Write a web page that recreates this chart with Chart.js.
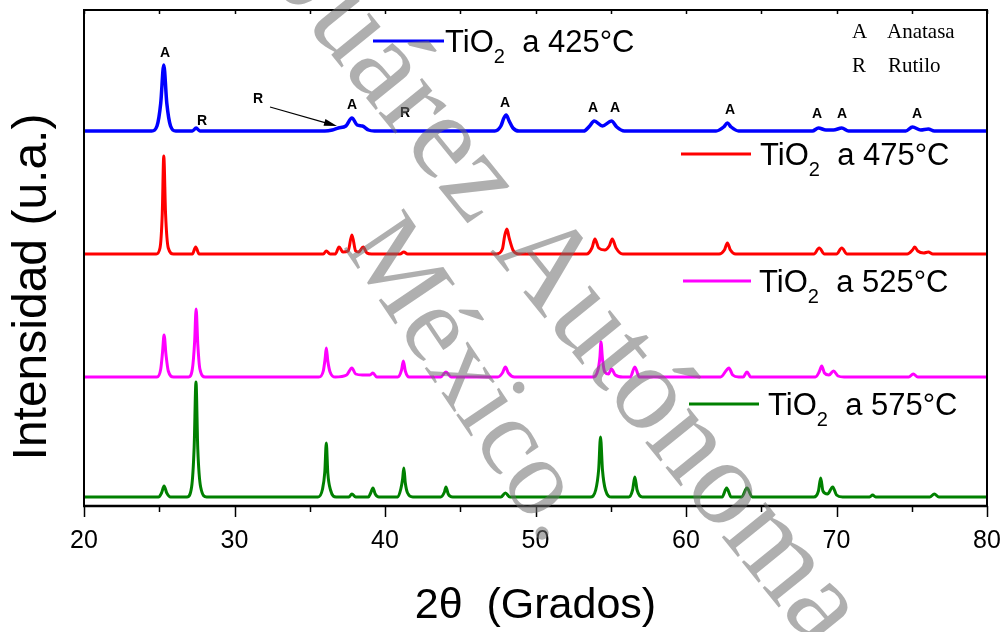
<!DOCTYPE html>
<html>
<head>
<meta charset="utf-8">
<script src="https://cdn.jsdelivr.net/npm/chart.js@4.4.1/dist/chart.umd.min.js"></script>
<style>
  html, body { margin: 0; padding: 0; background: #fff; }
  canvas { display: block; }
</style>
</head>
<body>
<canvas id="c" width="1005" height="632"></canvas>
<script>
// ---------------- DATA (2θ in degrees, intensity in a.u. above each pattern's baseline) ----------------
const seriesNames = ['TiO2 a 425°C', 'TiO2 a 475°C', 'TiO2 a 525°C', 'TiO2 a 575°C'];
const seriesTemps = ['425°C', '475°C', '525°C', '575°C'];

const angles425 = [20, 24.5, 24.85, 25.1, 25.3, 25.5, 25.75, 26.1, 27.2, 27.45, 27.7,
  36.0, 36.5, 36.9, 37.4, 37.8, 38.15, 38.5, 38.9, 39.3,
  47.3, 47.7, 47.9, 48.05, 48.25, 48.5, 48.9, 53.2, 53.6, 53.9, 54.45, 55.05, 55.4, 55.9,
  62.0, 62.5, 62.75, 63.0, 63.5, 68.4, 68.8, 69.3, 69.8, 70.35, 70.8,
  74.6, 75.05, 75.6, 76.1, 76.5, 80];
const counts425 = [0, 0, 5, 28, 66, 28, 5, 0, 0, 3, 0,
  0, 1, 3, 5, 13, 6, 5, 1, 0,
  0, 5, 13, 16, 10, 3, 0, 0, 5, 10, 5, 10, 4, 0,
  0, 4, 8, 4, 0, 0, 3, 1, 1, 3, 0,
  0, 4, 1, 2, 0, 0];

const angles475 = [20, 24.8, 25.05, 25.2, 25.3, 25.42, 25.6, 25.95, 27.2, 27.42, 27.65, 35.9, 36.1, 36.35, 36.7, 36.95, 37.2,
  37.55, 37.8, 38.05, 38.25, 38.55, 38.8, 39.1, 41.0, 41.25, 41.5, 47.4, 47.8, 47.95, 48.1, 48.25, 48.5, 48.9,
  53.4, 53.75, 53.95, 54.2, 54.6, 54.9, 55.1, 55.35, 55.8, 62.2, 62.55, 62.75, 62.95, 63.3,
  68.5, 68.85, 69.2, 70.0, 70.35, 70.7, 74.7, 75.05, 75.2, 75.4, 75.8, 76.1, 76.4, 80];
const counts475 = [0, 0, 6, 40, 98, 40, 6, 0, 0, 7, 0, 0, 3, 0, 0, 7, 2,
  3, 19, 3, 2, 7, 1, 0, 0, 2, 0, 0, 5, 18, 25, 16, 4, 0,
  0, 6, 15, 6, 4, 8, 15, 6, 0, 0, 4, 11, 4, 0,
  0, 6, 0, 0, 6, 0, 0, 4, 7, 3, 1, 2, 0, 0];

const angles525 = [20, 24.85, 25.1, 25.22, 25.32, 25.45, 25.6, 25.95, 26.95, 27.2, 27.35, 27.45, 27.56, 27.7, 28.05,
  35.6, 35.9, 36.02, 36.1, 36.2, 36.35, 36.7, 37.45, 37.8, 38.05, 38.5, 39.0, 39.2, 39.45,
  40.85, 41.1, 41.22, 41.35, 41.6, 43.7, 44.05, 44.4, 47.5, 47.8, 48.0, 48.2, 48.6,
  53.8, 54.15, 54.28, 54.35, 54.45, 54.6, 54.85, 55.05, 55.3, 55.8, 56.3, 56.6, 56.9,
  62.3, 62.7, 62.85, 63.1, 63.5, 63.8, 64.05, 64.3, 68.6, 68.85, 69.02, 69.2, 69.5, 69.8, 70.1, 70.5,
  74.8, 75.1, 75.4, 80];
const counts525 = [0, 0, 8, 25, 42, 22, 6, 0, 0, 8, 35, 68, 33, 8, 0,
  0, 6, 18, 29, 16, 5, 0, 2, 9, 3, 2, 2, 4, 0,
  0, 7, 16, 6, 0, 0, 5, 0, 0, 4, 10, 4, 0,
  0, 7, 20, 35, 18, 5, 3, 8, 2, 0, 0, 10, 0,
  0, 7, 9, 2, 0, 0, 5, 0, 0, 5, 11, 4, 2, 6, 1, 0,
  0, 3, 0, 0];

const angles575 = [20, 24.95, 25.15, 25.32, 25.5, 25.75, 26.85, 27.15, 27.32, 27.44, 27.56, 27.75, 28.15,
  35.55, 35.85, 36.0, 36.1, 36.2, 36.38, 36.75, 37.6, 37.8, 38.05, 38.9, 39.05, 39.2, 39.35, 39.6,
  40.85, 41.05, 41.17, 41.25, 41.35, 41.5, 41.85, 43.7, 43.95, 44.05, 44.2, 44.5, 47.7, 48.0, 48.3,
  53.65, 54.0, 54.2, 54.32, 54.45, 54.65, 55.05, 56.2, 56.45, 56.6, 56.75, 57.1,
  62.4, 62.7, 63.0, 63.7, 64.05, 64.4, 68.5, 68.8, 68.95, 69.1, 69.4, 69.75, 70.0, 70.4,
  72.2, 72.4, 72.6, 76.2, 76.5, 76.8, 80];
const counts575 = [0, 0, 4, 11, 4, 0, 0, 10, 50, 115, 48, 10, 0,
  0, 8, 25, 54, 24, 7, 0, 0, 3, 0, 0, 4, 9, 3, 0,
  0, 8, 18, 29, 14, 4, 0, 0, 5, 10, 3, 0, 0, 4, 0,
  0, 7, 28, 60, 27, 7, 0, 0, 7, 20, 7, 0,
  0, 9, 0, 0, 9, 0, 0, 6, 19, 6, 3, 10, 2, 0,
  0, 2, 0, 0, 3, 0, 0];

// vertical stacking offsets of each pattern (a.u.)
const stackOffsets = [375, 252, 129, 9];

// phase labels above the 425°C pattern
const phaseLabels = ['A', 'R', 'R', 'A', 'R', 'A', 'A', 'A', 'A', 'A', 'A', 'A'];
const phaseLabelAngles = [25.38, 27.84, 31.56, 37.81, 41.33, 47.97, 53.82, 55.28, 62.92, 68.7, 70.37, 75.35];
const phaseLabelLevels = [453, 385, 407, 401, 393, 403, 398, 398, 396, 392, 392, 392];
// arrow from the 3rd label to the small rutile shoulder
const arrowAngles = [32.36, 36.81];
const arrowLevels = [399, 380];

const xTicks = [20, 30, 40, 50, 60, 70, 80];
// ------------------------------------------------------------------------------------------------

const colors = ['#0000ff', '#ff0000', '#ff00ff', '#008000'];
const angleSets = [angles425, angles475, angles525, angles575];
const countSets = [counts425, counts475, counts525, counts575];

const datasets = angleSets.map((angs, i) => ({
  label: seriesNames[i],
  data: angs.map((a, k) => ({ x: a, y: stackOffsets[i] + countSets[i][k] })),
  borderColor: colors[i],
  borderWidth: i === 0 ? 3.5 : 3,
  pointRadius: 0,
  fill: false,
  cubicInterpolationMode: 'monotone'
}));

const SANS = '"Liberation Sans", Arial, sans-serif';
const SERIF = '"Liberation Serif", "Times New Roman", serif';

const decor = {
  id: 'decor',
  afterDatasetsDraw(chart) {
    const { ctx, chartArea: ca, scales: { x, y } } = chart;
    ctx.save();
    // frame
    ctx.strokeStyle = '#000';
    ctx.lineWidth = 2;
    ctx.strokeRect(ca.left, ca.top, ca.right - ca.left, ca.bottom - ca.top);
    ctx.lineWidth = 2.5;
    ctx.beginPath(); ctx.moveTo(ca.left - 1, ca.bottom); ctx.lineTo(ca.right + 1, ca.bottom); ctx.stroke();
    // ticks
    ctx.lineWidth = 1.5;
    for (let v = 20; v <= 80; v += 5) {
      const px = Math.round(x.getPixelForValue(v)) + 0.5;
      const major = v % 10 === 0;
      ctx.beginPath(); ctx.moveTo(px, ca.bottom); ctx.lineTo(px, ca.bottom + (major ? 11 : 6)); ctx.stroke();
      ctx.beginPath(); ctx.moveTo(px, ca.top); ctx.lineTo(px, ca.top + 4); ctx.stroke();
    }
    // phase labels
    ctx.fillStyle = '#000';
    ctx.font = 'bold 14px ' + SANS;
    ctx.textAlign = 'center';
    ctx.textBaseline = 'middle';
    phaseLabels.forEach((t, i) => {
      ctx.fillText(t, x.getPixelForValue(phaseLabelAngles[i]), y.getPixelForValue(phaseLabelLevels[i]));
    });
    // arrow
    const x1 = x.getPixelForValue(arrowAngles[0]), y1 = y.getPixelForValue(arrowLevels[0]);
    const x2 = x.getPixelForValue(arrowAngles[1]), y2 = y.getPixelForValue(arrowLevels[1]);
    const ang = Math.atan2(y2 - y1, x2 - x1);
    ctx.lineWidth = 1.2;
    ctx.beginPath(); ctx.moveTo(x1, y1); ctx.lineTo(x2 - 8 * Math.cos(ang), y2 - 8 * Math.sin(ang)); ctx.stroke();
    ctx.beginPath();
    ctx.moveTo(x2, y2);
    ctx.lineTo(x2 - 13 * Math.cos(ang) + 3.5 * Math.sin(ang), y2 - 13 * Math.sin(ang) - 3.5 * Math.cos(ang));
    ctx.lineTo(x2 - 13 * Math.cos(ang) - 3.5 * Math.sin(ang), y2 - 13 * Math.sin(ang) + 3.5 * Math.cos(ang));
    ctx.closePath(); ctx.fill();

    // phase key
    ctx.font = '21px ' + SERIF;
    ctx.textAlign = 'left';
    ctx.textBaseline = 'alphabetic';
    ctx.fillText('A', ca.left + 768, ca.top + 28);
    ctx.fillText('Anatasa', ca.left + 803, ca.top + 28);
    ctx.fillText('R', ca.left + 768, ca.top + 62);
    ctx.fillText('Rutilo', ca.left + 804, ca.top + 62);

    // series legends
    const legendPos = [
      { x1: 373, x2: 444, ly: 41, tx: 445 },
      { x1: 681, x2: 751, ly: 154, tx: 760 },
      { x1: 683, x2: 751, ly: 281, tx: 759 },
      { x1: 689, x2: 759, ly: 404, tx: 768 }
    ];
    legendPos.forEach((p, i) => {
      ctx.strokeStyle = colors[i];
      ctx.lineWidth = 3;
      ctx.beginPath(); ctx.moveTo(p.x1, p.ly); ctx.lineTo(p.x2, p.ly); ctx.stroke();
      ctx.fillStyle = '#000';
      const base = p.ly + 11;
      ctx.font = '31px ' + SANS;
      ctx.fillText('TiO', p.tx, base);
      let cx = p.tx + ctx.measureText('TiO').width;
      ctx.font = '20px ' + SANS;
      ctx.fillText('2', cx, base + 11);
      cx += ctx.measureText('2').width;
      ctx.font = '31px ' + SANS;
      ctx.fillText('  a ' + seriesTemps[i], cx, base);
    });

    // y axis title
    ctx.save();
    ctx.translate(33, 287);
    ctx.rotate(-Math.PI / 2);
    ctx.font = '48px ' + SANS;
    ctx.textAlign = 'center';
    ctx.textBaseline = 'middle';
    ctx.fillStyle = '#000';
    ctx.fillText('Intensidad (u.a.)', 0, 0);
    ctx.restore();
    ctx.restore();
  },
  afterDraw(chart) {
    const { ctx } = chart;
    function mark(text, idx, ax, ay, deg, size) {
      ctx.save();
      ctx.font = size + 'px ' + SERIF;
      const along = ctx.measureText(text.slice(0, idx)).width + ctx.measureText(text[idx]).width / 2;
      const up = size * 0.3;
      const a = deg * Math.PI / 180;
      const dx = Math.cos(a), dy = Math.sin(a), ux = Math.sin(a), uy = -Math.cos(a);
      const sx = ax - along * dx - up * ux, sy = ay - along * dy - up * uy;
      ctx.translate(sx, sy);
      ctx.rotate(a);
      ctx.fillStyle = 'rgba(110,110,110,0.55)';
      ctx.textAlign = 'left';
      ctx.textBaseline = 'alphabetic';
      ctx.fillText(text, 0, 0);
      ctx.restore();
    }
    mark('Juárez Autónoma', 7, 546, 262, 51, 122);
    mark('México.', 0, 397, 268, 56, 110);
  }
};

new Chart(document.getElementById('c'), {
  type: 'line',
  data: { datasets },
  options: {
    responsive: false,
    maintainAspectRatio: false,
    animation: false,
    devicePixelRatio: 1,
    layout: { padding: { left: 84, right: 18, top: 10, bottom: 0 } },
    plugins: { legend: { display: false }, tooltip: { enabled: false } },
    scales: {
      x: {
        type: 'linear', position: 'bottom', min: 20, max: 80,
        grid: { display: false, drawTicks: false },
        border: { display: false },
        afterBuildTicks(s) { s.ticks = xTicks.map(v => ({ value: v })); },
        ticks: { font: { family: SANS, size: 25 }, color: '#000', padding: 20, maxRotation: 0, autoSkip: false },
        title: { display: true, text: '2θ  (Grados)', font: { family: SANS, size: 43 }, color: '#000', padding: { top: 0, bottom: 0 } },
        afterFit(s) { s.height = 126; s.paddingLeft = 0; s.paddingRight = 0; }
      },
      y: { display: false, min: 0, max: 496 }
    }
  },
  plugins: [decor]
});
</script>
</body>
</html>
